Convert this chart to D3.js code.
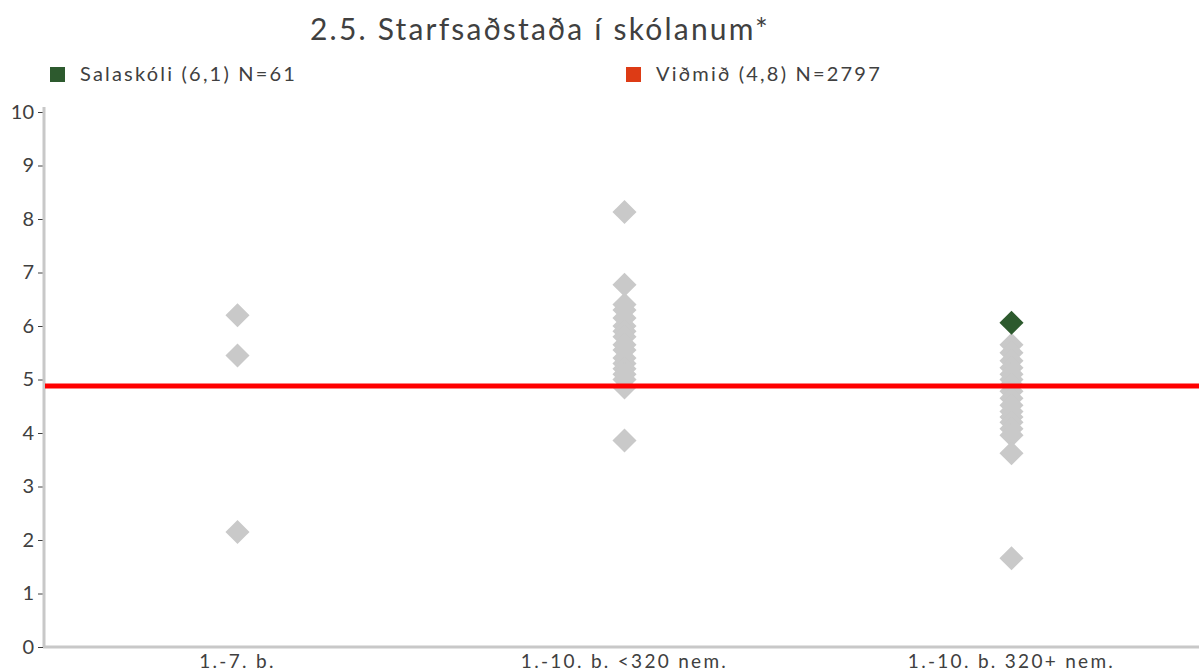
<!DOCTYPE html>
<html>
<head>
<meta charset="utf-8">
<script src="https://cdn.jsdelivr.net/npm/d3@7"></script>
<style>
  body { margin: 0; background: #fff; }
  svg text { font-family: Lato, "Open Sans", sans-serif; fill: #404040; }
</style>
</head>
<body>
<div id="chart"></div>
<script>
  const categories = ["1.-7. b.", "1.-10. b. <320 nem.", "1.-10. b. 320+ nem."];
  const yTicks = [0, 1, 2, 3, 4, 5, 6, 7, 8, 9, 10];

  // other schools, per category
  const group1 = [6.2, 5.45, 2.15];
  const group2 = [8.13, 6.77, 6.4, 6.3, 6.15, 6.0, 5.9, 5.8, 5.65, 5.55, 5.4, 5.3, 5.2, 5.1, 5.0, 4.85, 3.86];
  const group3 = [5.65, 5.5, 5.35, 5.22, 5.1, 5.0, 4.9, 4.78, 4.65, 4.52, 4.4, 4.3, 4.2, 4.08, 3.96, 3.62, 1.66];

  const schoolName = "Salaskóli (6,1) N=61";
  const schoolCategory = "1.-10. b. 320+ nem.";
  const schoolValue = 6.06;

  const benchmarkName = "Viðmið (4,8) N=2797";
  const benchmarkValue = 4.88;

  const title = "2.5. Starfsaðstaða í skólanum*";

  const width = 1199, height = 672;
  const margin = { top: 112, right: 0, bottom: 25, left: 44 };
  const plotBottom = height - margin.bottom;

  const grey = "#c9c9c9";
  const green = "#2d5a2e";
  const legendRed = "#dd3b15";

  const svg = d3.select("#chart").append("svg")
    .attr("width", width)
    .attr("height", height);

  // plot area runs a little past the right edge of the picture
  const x = d3.scaleBand()
    .domain(categories)
    .range([margin.left, 1205]);

  const y = d3.scaleLinear()
    .domain([0, 10])
    .range([plotBottom, margin.top]);

  // title
  svg.append("text")
    .attr("x", 540)
    .attr("y", 40)
    .attr("text-anchor", "middle")
    .attr("font-size", 30)
    .attr("letter-spacing", 2.2)
    .text(title);

  // legend
  const legend = [
    { label: schoolName, color: green, x: 50 },
    { label: benchmarkName, color: legendRed, x: 626 }
  ];
  const lg = svg.append("g").selectAll("g").data(legend).enter().append("g")
    .attr("transform", (d) => `translate(${d.x},67)`);
  lg.append("rect").attr("width", 15).attr("height", 15).attr("fill", (d) => d.color);
  lg.append("text")
    .attr("x", 30).attr("y", 14)
    .attr("font-size", 20)
    .attr("letter-spacing", 2.2)
    .text((d) => d.label);

  // axes
  const yAxis = svg.append("g")
    .attr("transform", `translate(${margin.left - 1},0)`)
    .call(d3.axisLeft(y).tickValues(yTicks).tickSize(5).tickPadding(4).tickFormat(d3.format("d")));
  yAxis.select(".domain").remove();
  yAxis.selectAll(".tick line").attr("stroke", "#404040");
  yAxis.selectAll(".tick text")
    .attr("font-size", 20).attr("fill", "#404040").attr("font-family", "Lato, sans-serif");

  svg.append("line")
    .attr("x1", margin.left).attr("x2", margin.left)
    .attr("y1", y(10) - 5).attr("y2", plotBottom)
    .attr("stroke", "#c8c8c8").attr("stroke-width", 3);

  const xAxis = svg.append("g")
    .attr("transform", `translate(0,${plotBottom})`)
    .call(d3.axisBottom(x).tickSize(0).tickPadding(8));
  xAxis.select(".domain").remove();
  xAxis.selectAll(".tick text")
    .attr("font-size", 19).attr("fill", "#404040").attr("font-family", "Lato, sans-serif")
    .attr("letter-spacing", 2.3);

  svg.append("line")
    .attr("x1", margin.left - 1).attr("x2", width)
    .attr("y1", plotBottom).attr("y2", plotBottom)
    .attr("stroke", "#c8c8c8").attr("stroke-width", 3);

  // diamonds
  const points = [];
  [group1, group2, group3].forEach((vals, i) => {
    vals.forEach((v) => points.push({ cat: categories[i], value: v }));
  });

  const diamond = d3.symbol().type(d3.symbolSquare).size(290);
  const cx = (d) => x(d.cat) + x.bandwidth() / 2;

  svg.append("g").selectAll("path").data(points).enter().append("path")
    .attr("d", diamond)
    .attr("transform", (d) => `translate(${cx(d)},${y(d.value)}) rotate(45)`)
    .attr("fill", grey);

  // benchmark line
  svg.append("line")
    .attr("x1", margin.left + 1).attr("x2", width)
    .attr("y1", y(benchmarkValue)).attr("y2", y(benchmarkValue))
    .attr("stroke", "#ff0000").attr("stroke-width", 5);

  // the school
  svg.append("path")
    .datum({ cat: schoolCategory, value: schoolValue })
    .attr("d", diamond)
    .attr("transform", (d) => `translate(${cx(d)},${y(d.value)}) rotate(45)`)
    .attr("fill", green);
</script>
</body>
</html>
